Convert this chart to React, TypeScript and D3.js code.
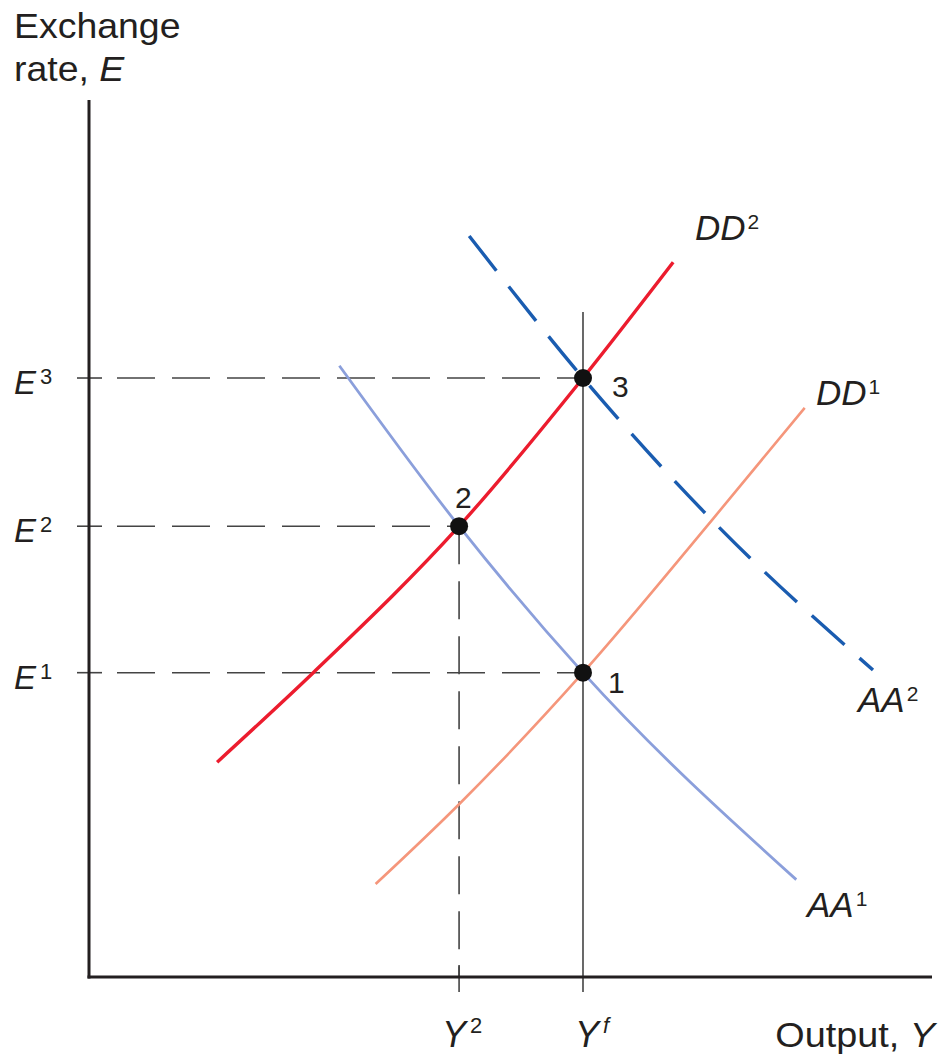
import React from "react";
import * as d3 from "d3";

// Abstract units: output 0..100 (x), exchange rate 0..100 (y)
const outputLevels = [
  { key: "Y2", value: 43.9, base: "Y", sup: "2", dashed: true, dx: -17 },
  { key: "Yf", value: 58.6, base: "Y", sup: "f", dashed: false, dx: -8 },
];
const rateLevels = [
  { key: "E1", value: 34.7, sup: "1", toX: 58.6 },
  { key: "E2", value: 51.4, sup: "2", toX: 43.9 },
  { key: "E3", value: 68.3, sup: "3", toX: 58.6 },
];
const equilibria = [
  { label: "1", x: 58.6, y: 34.7, dx: 25, dy: 20 },
  { label: "2", x: 43.9, y: 51.4, dx: -4, dy: -18 },
  { label: "3", x: 58.6, y: 68.3, dx: 29, dy: 19 },
];
const dd1: [number, number][] = [
  [34.0, 10.6], [43.9, 19.7], [58.6, 34.7], [73.9, 52.1], [84.9, 64.9],
];
const dd2: [number, number][] = [
  [15.2, 24.5], [26.6, 34.7], [43.9, 51.4], [58.6, 68.3], [69.3, 81.5],
];
const aa1: [number, number][] = [
  [29.7, 69.7], [43.9, 51.4], [58.6, 34.7], [83.9, 11.1],
];
const aa2: [number, number][] = [
  [45.1, 84.5], [58.6, 68.3], [73.9, 52.1], [93.0, 35.0],
];
const curveLabels = [
  { base: "DD", sup: "2", px: 695, py: 240 },
  { base: "DD", sup: "1", px: 816, py: 405 },
  { base: "AA", sup: "2", px: 858, py: 712 },
  { base: "AA", sup: "1", px: 807, py: 917 },
];

const W = 942;
const H = 1055;
const FONT = "'Liberation Sans', Arial, Helvetica, sans-serif";
const INK = "#231f20";

export default function App() {
  const x = d3.scaleLinear().domain([0, 100]).range([89, 932]);
  const y = d3.scaleLinear().domain([0, 100]).range([977, 100]);
  const line = d3
    .line<[number, number]>()
    .x((d) => x(d[0]))
    .y((d) => y(d[1]))
    .curve(d3.curveMonotoneX);

  return (
    <svg
      width={W}
      height={H}
      style={{ position: "absolute", left: 0, top: 0, background: "#fff" }}
    >
      {/* axis titles */}
      <text transform="translate(14,38) scale(1.07,1)" fontFamily={FONT} fontSize={35} fill={INK}>
        Exchange
      </text>
      <text transform="translate(14,81) scale(1.07,1)" fontFamily={FONT} fontSize={35} fill={INK}>
        rate, <tspan fontStyle="italic">E</tspan>
      </text>
      <text
        transform="translate(935,1047) scale(1.08,1)"
        textAnchor="end"
        fontFamily={FONT}
        fontSize={35}
        fill={INK}
      >
        Output, <tspan fontStyle="italic">Y</tspan>
      </text>

      {/* guide lines for E levels */}
      {rateLevels.map((r) => (
        <g key={r.key}>
          <line x1={77} x2={102} y1={y(r.value)} y2={y(r.value)} stroke="#444" strokeWidth={1.6} />
          <line
            x1={117}
            x2={x(r.toX)}
            y1={y(r.value)}
            y2={y(r.value)}
            stroke="#444"
            strokeWidth={1.6}
            strokeDasharray="38 17"
          />
          <text x={14} y={y(r.value) + 16} fontFamily={FONT} fontSize={33} fill={INK}>
            <tspan fontStyle="italic">E</tspan>
            <tspan fontSize={22} dx={4} dy={-10}>{r.sup}</tspan>
          </text>
        </g>
      ))}

      {/* output levels */}
      {outputLevels.map((o) =>
        o.dashed ? (
          <g key={o.key}>
            <line
              x1={x(o.value)}
              x2={x(o.value)}
              y1={y(51.4)}
              y2={y(0)}
              stroke="#444"
              strokeWidth={1.6}
              strokeDasharray="38 17"
            />
            <line x1={x(o.value)} x2={x(o.value)} y1={965} y2={992} stroke="#444" strokeWidth={1.6} />
          </g>
        ) : (
          <line
            key={o.key}
            x1={x(o.value)}
            x2={x(o.value)}
            y1={312}
            y2={992}
            stroke="#444"
            strokeWidth={1.6}
          />
        )
      )}
      {outputLevels.map((o) => (
        <text
          key={o.key + "l"}
          x={x(o.value) + o.dx}
          y={1047}
          fontFamily={FONT}
          fontSize={36}
          fill={INK}
        >
          <tspan fontStyle="italic">{o.base}</tspan>
          <tspan fontSize={22} dx={4} dy={-14} fontStyle={o.sup === "f" ? "italic" : "normal"}>
            {o.sup}
          </tspan>
        </text>
      ))}

      {/* curves */}
      <path d={line(dd1) || ""} fill="none" stroke="#f5967b" strokeWidth={2.6} />
      <path d={line(aa1) || ""} fill="none" stroke="#8b9fdb" strokeWidth={2.8} />
      <path d={line(dd2) || ""} fill="none" stroke="#ec1c2e" strokeWidth={3.4} />
      <path
        d={line(aa2) || ""}
        fill="none"
        stroke="#1a5cb0"
        strokeWidth={3.4}
        strokeDasharray="44 20"
      />

      {/* axes */}
      <line x1={89} x2={89} y1={100} y2={978.5} stroke={INK} strokeWidth={3} />
      <line x1={87.5} x2={932} y1={977} y2={977} stroke={INK} strokeWidth={3} />

      {/* equilibrium points */}
      {equilibria.map((p) => (
        <g key={p.label}>
          <circle cx={x(p.x)} cy={y(p.y)} r={9} fill="#111" />
          <text
            x={x(p.x) + p.dx}
            y={y(p.y) + p.dy}
            fontFamily={FONT}
            fontSize={30}
            fill={INK}
          >
            {p.label}
          </text>
        </g>
      ))}

      {/* curve labels */}
      {curveLabels.map((c) => (
        <text key={c.base + c.sup} x={c.px} y={c.py} fontFamily={FONT} fontSize={35} fill={INK}>
          <tspan fontStyle="italic">{c.base}</tspan>
          <tspan fontSize={21} dx={2} dy={-11}>{c.sup}</tspan>
        </text>
      ))}
    </svg>
  );
}
